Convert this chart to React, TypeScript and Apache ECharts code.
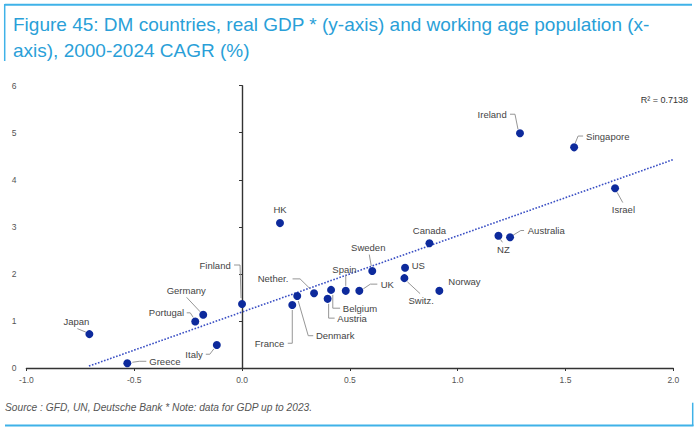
import React, { useEffect, useRef } from "react";
import * as echarts from "echarts";

const countries = ["Japan", "Greece", "Portugal", "Germany", "Italy", "Finland", "France", "Denmark", "Nether.", "Austria", "Belgium", "Spain", "UK", "HK", "Sweden", "US", "Switz.", "Canada", "Norway", "NZ", "Australia", "Ireland", "Singapore", "Israel"];
const popGrowth = [-0.708, -0.532, -0.217, -0.18, -0.117, 0.0, 0.233, 0.256, 0.334, 0.397, 0.413, 0.481, 0.544, 0.176, 0.604, 0.756, 0.753, 0.869, 0.915, 1.189, 1.243, 1.289, 1.54, 1.73];
const gdpGrowth = [0.72, 0.1, 0.99, 1.13, 0.49, 1.36, 1.34, 1.53, 1.59, 1.47, 1.66, 1.64, 1.64, 3.08, 2.06, 2.13, 1.91, 2.65, 1.64, 2.81, 2.78, 4.99, 4.69, 3.82];
const trendX = [-0.71, 2.0];
const trendY = [0.04, 4.43];
const xTicks = { min: -1, max: 2, interval: 0.5 };
const yTicks = { min: 0, max: 6, interval: 1 };
const rSquaredText = "R\u00b2 = 0.7138";
const titleText = "Figure 45: DM countries, real GDP * (y-axis) and working age population (x-\naxis), 2000-2024 CAGR (%)";
const sourceText = "Source : GFD, UN, Deutsche Bank * Note: data for GDP up to 2023.";

// label placement relative to each point (pixels)
type LL = { align: string; dx: number; dy: number; line?: number[][] };
const labelLayout: LL[] = [
  { align: "center", dx: -13, dy: -12.6, line: [[-12, -5.5], [-3.5, -2]] },
  { align: "left", dx: 22, dy: -1.6, line: [[5, -1], [12, -2], [19, -2]] },
  { align: "right", dx: -11, dy: -8.6, line: [[-8.5, -8.6], [-5, -8.6], [-2, -4]] },
  { align: "center", dx: -17, dy: -24.3, line: [[-16.6, -17.5], [-3, -3]] },
  { align: "right", dx: -14, dy: 9.3, line: [[-11, 9.3], [-7, 9.3], [-3, 4]] },
  { align: "right", dx: -11.3, dy: -39, line: [[-8, -39], [-2, -39], [-1, -6]] },
  { align: "right", dx: -8, dy: 38.3, line: [[-4.5, 38.3], [0, 38.3], [0, 5]] },
  { align: "left", dx: 18.7, dy: 39.7, line: [[1, 5], [11, 39.7], [16, 39.7]] },
  { align: "right", dx: -25.7, dy: -14.3, line: [[-21.5, -14.3], [-14, -14.3], [-4, -4.5]] },
  { align: "left", dx: 9.7, dy: 19.3, line: [[1, 5], [1, 19.3], [7, 19.3]] },
  { align: "left", dx: 11.7, dy: 18.3, line: [[1.7, 5], [1.7, 18.3], [9, 18.3]] },
  { align: "center", dx: -1.3, dy: -21.7, line: [[0, -16], [0, -5]] },
  { align: "left", dx: 21.3, dy: -6.7, line: [[4, -2], [11, -6.7], [18, -6.7]] },
  { align: "center", dx: 0, dy: -13.5 },
  { align: "center", dx: -4, dy: -23.3, line: [[-3, -16.5], [-1, -5]] },
  { align: "left", dx: 6.7, dy: -2 },
  { align: "center", dx: 16.7, dy: 22.7, line: [[3, 3.7], [15.7, 15.5]] },
  { align: "center", dx: 0, dy: -13.3 },
  { align: "left", dx: 9, dy: -9.7 },
  { align: "center", dx: 5, dy: 13.3, line: [[2, 3.5], [4, 6.5]] },
  { align: "left", dx: 17.7, dy: -6.7, line: [[14, -6.7], [10.7, -6.7], [3, -2]] },
  { align: "right", dx: -13.3, dy: -19, line: [[-10, -19], [-5, -19], [-2, -4]] },
  { align: "left", dx: 12, dy: -11.3, line: [[9, -11.3], [4, -11.3], [1, -4]] },
  { align: "center", dx: 8.3, dy: 21, line: [[2, 4], [7.7, 14.3]] },
];

const FONT = "'Liberation Sans', Arial, sans-serif";
const BLUE_LINE = "#3fb2e8";

export default function App() {
  const ref = useRef<HTMLDivElement>(null);
  useEffect(() => {
    document.body.style.margin = "0";
    const chart = echarts.init(ref.current!, undefined, { renderer: "svg" });
    const points = countries.map((c, i) => [popGrowth[i], gdpGrowth[i], i]);
    const option: any = {
      animation: false,
      backgroundColor: "#ffffff",
      title: {
        text: titleText,
        left: 13,
        top: 11,
        padding: 0,
        textStyle: { fontFamily: FONT, fontSize: 19, fontWeight: "normal", color: "#2a9fd8", lineHeight: 26 },
      },
      grid: { left: 26.4, right: 26.7, top: 85.7, bottom: 60 },
      xAxis: {
        type: "value",
        min: xTicks.min,
        max: xTicks.max,
        interval: xTicks.interval,
        axisLine: { show: true, onZero: false, lineStyle: { color: "#333", width: 1.4 } },
        axisTick: { show: true, length: 3, lineStyle: { color: "#333" } },
        splitLine: { show: false },
        axisLabel: { color: "#555", fontSize: 8.5, fontFamily: FONT, margin: 7, formatter: (v: number) => v.toFixed(1) },
      },
      yAxis: [
        {
          type: "value",
          position: "left",
          min: yTicks.min,
          max: yTicks.max,
          interval: yTicks.interval,
          axisLine: { show: false, onZero: false },
          axisTick: { show: false },
          splitLine: { show: false },
          axisLabel: { color: "#555", fontSize: 8.5, fontFamily: FONT, margin: 10 },
        },
        {
          type: "value",
          position: "left",
          min: yTicks.min,
          max: yTicks.max,
          interval: yTicks.interval,
          axisLine: { show: true, onZero: true, onZeroAxisIndex: 0, lineStyle: { color: "#333", width: 1.4 } },
          axisTick: { show: true, length: 3, lineStyle: { color: "#333" } },
          splitLine: { show: false },
          axisLabel: { show: false },
        },
      ],
      series: [
        {
          type: "line",
          data: trendX.map((x, i) => [x, trendY[i]]),
          symbol: "none",
          lineStyle: { color: "#3a4fc4", width: 1.6, type: [1.6, 1.6] },
          z: 2,
          silent: true,
        },
        {
          type: "custom",
          data: points,
          clip: false,
          z: 3,
          silent: true,
          renderItem: (params: any, api: any) => {
            const idx = api.value(2);
            const p = api.coord([api.value(0), api.value(1)]);
            const ll = labelLayout[idx];
            const children: any[] = [];
            if (ll.line) {
              children.push({
                type: "polyline",
                shape: { points: ll.line.map((q) => [p[0] + q[0], p[1] + q[1]]) },
                style: { stroke: "#8a8a8a", lineWidth: 0.9, fill: null },
              });
            }
            children.push({
              type: "text",
              x: p[0] + ll.dx,
              y: p[1] + ll.dy,
              style: {
                text: countries[idx],
                fill: "#444",
                fontSize: 9.5,
                fontFamily: FONT,
                align: ll.align,
                verticalAlign: "middle",
              },
            });
            return { type: "group", children };
          },
        },
        {
          type: "scatter",
          data: points.map((p) => [p[0], p[1]]),
          symbolSize: 8,
          itemStyle: { color: "#0d2a9c", opacity: 1 },
          z: 4,
        },
      ],
      graphic: [
        {
          type: "text",
          right: 12,
          top: 95,
          style: { text: rSquaredText, fill: "#333", fontSize: 9, fontFamily: FONT },
        },
        {
          type: "text",
          left: 5,
          top: 402,
          style: { text: sourceText, fill: "#555", fontSize: 10.2, fontStyle: "italic", fontFamily: FONT },
        },
        { type: "line", shape: { x1: 4.7, y1: 4.7, x2: 692, y2: 4.7 }, style: { stroke: BLUE_LINE, lineWidth: 2 } },
        { type: "line", shape: { x1: 4.7, y1: 4, x2: 4.7, y2: 61 }, style: { stroke: BLUE_LINE, lineWidth: 1.5 } },
        { type: "line", shape: { x1: 5, y1: 425.5, x2: 693.5, y2: 425.5 }, style: { stroke: BLUE_LINE, lineWidth: 2 } },
        { type: "line", shape: { x1: 692.7, y1: 402.7, x2: 692.7, y2: 426 }, style: { stroke: BLUE_LINE, lineWidth: 1.5 } },
      ],
    };
    chart.setOption(option);
    return () => chart.dispose();
  }, []);
  return <div ref={ref} style={{ width: 700, height: 428 }} />;
}
